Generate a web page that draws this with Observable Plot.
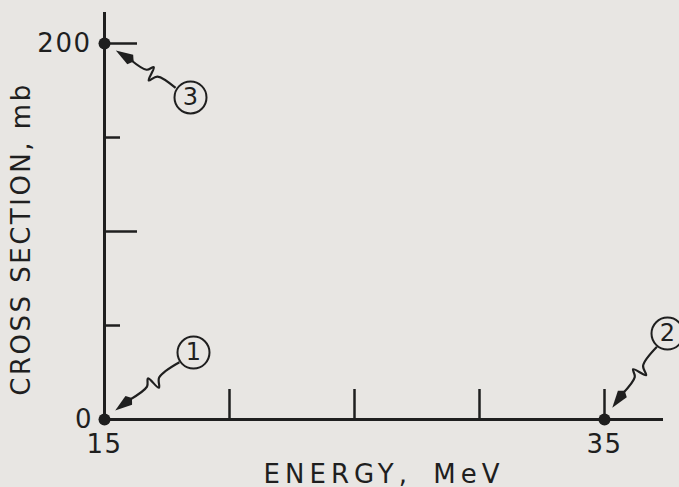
<!DOCTYPE html>
<html><head><meta charset="utf-8">
<script src="https://cdn.jsdelivr.net/npm/d3@7"></script>
<script src="https://cdn.jsdelivr.net/npm/@observablehq/plot@0.6"></script>
<style>
html,body{margin:0;padding:0;background:#e8e6e3;}
</style></head><body><div id="chart"></div>
<script>
// data points (energy in MeV, cross section in mb)
const energy = [15, 35, 15];
const crossSection = [0, 0, 200];
const pointIds = ["1", "2", "3"];
// circled label positions (data units)
const labelEnergy = [18.56, 37.52, 18.44];
const labelCross = [35.6, 45.7, 171.3];
// ticks
const xTicks = [20, 25, 30, 35];
const xTickLabels = [15, 35];
const yMajorTicks = [0, 100, 200];
const yMinorTicks = [50, 150];
const yTickLabels = [0, 200];
const xTitle = "ENERGY, MeV";
const yTitle = "CROSS SECTION, mb";

const ink = "#1f1f1f";
const pts = energy.map((e, i) => ({energy: e, cs: crossSection[i], id: pointIds[i]}));
const labels = pointIds.map((id, i) => ({id, energy: labelEnergy[i], cs: labelCross[i], tx: energy[i], ty: crossSection[i]}));

const chart = Plot.plot({
  width: 679, height: 487,
  marginLeft: 104, marginRight: 16, marginTop: 12, marginBottom: 68,
  x: {domain: [15, 37.36]},
  y: {domain: [0, 216.5]},
  style: {background: "#e8e6e3", fontFamily: "DejaVu Sans", color: ink},
  marks: [
    Plot.axisX(xTicks, {tickSize: -30, tickFormat: () => "", strokeWidth: 2.5, label: null, stroke: ink}),
    Plot.axisX(xTickLabels, {tickSize: 0, tickPadding: 15, fontSize: 26, label: null, fill: ink}),
    Plot.axisY(yMajorTicks, {tickSize: -33, tickFormat: () => "", strokeWidth: 2.5, label: null, stroke: ink}),
    Plot.axisY(yMinorTicks, {tickSize: -16, tickFormat: () => "", strokeWidth: 2.5, label: null, stroke: ink}),
    Plot.axisY(yTickLabels, {tickSize: 0, tickPadding: 13, fontSize: 26, label: null, fill: ink}),
    Plot.ruleX([15], {strokeWidth: 3, stroke: ink}),
    Plot.ruleY([0], {strokeWidth: 3, stroke: ink}),
    Plot.dot(pts, {x: "energy", y: "cs", r: 6, fill: ink}),
    Plot.dot(labels, {x: "energy", y: "cs", r: 16, stroke: ink, strokeWidth: 2, fill: "none"}),
    Plot.text(labels, {x: "energy", y: "cs", text: "id", fontSize: 24, fill: ink}),
    Plot.text([yTitle], {frameAnchor: "left", textAnchor: "middle", rotate: -90, dx: -83, dy: 23, fontSize: 26, fill: ink}),
    Plot.text([xTitle], {frameAnchor: "bottom", textAnchor: "middle", dy: 63, lineAnchor: "bottom", fontSize: 26, fill: ink})
  ]
});
document.getElementById("chart").appendChild(chart);

const svg = d3.select(chart);
svg.selectAll("text").filter(function(){ return this.textContent === xTitle; })
  .attr("letter-spacing", 5).attr("word-spacing", 8);
svg.selectAll("text").filter(function(){ return this.textContent === yTitle; })
  .attr("letter-spacing", 2.5);
svg.selectAll("text").filter(function(){ return /^\d{2,}$/.test(this.textContent); })
  .attr("letter-spacing", 1.5);

// wavy annotation arrows, positioned through Plot's scales
const sx = chart.scale("x"), sy = chart.scale("y");
const g = svg.append("g");
labels.forEach(d => {
  const P = [sx.apply(d.tx), sy.apply(d.ty)];
  const C = [sx.apply(d.energy), sy.apply(d.cs)];
  let ux = C[0] - P[0], uy = C[1] - P[1];
  const len = Math.hypot(ux, uy); ux /= len; uy /= len;
  const nx = -uy, ny = ux;
  const tip = [P[0] + ux * 14, P[1] + uy * 14];
  const tail = [C[0] - ux * 17, C[1] - uy * 17];
  const L = Math.hypot(tail[0] - tip[0], tail[1] - tip[1]);
  const head = 17;
  const base = [tip[0] + ux * head, tip[1] + uy * head];
  const at = (t, o) => [base[0] + ux * t * (L - head) + nx * o, base[1] + uy * t * (L - head) + ny * o];
  const squig = [at(1, 0), at(0.6, 0), at(0.5, 8), at(0.45, -6), at(0.36, 0), at(0, 0)];
  g.append("path").attr("d", d3.line().curve(d3.curveCatmullRom)(squig))
    .attr("fill", "none").attr("stroke", ink).attr("stroke-width", 2.2);
  const hw = 5.5;
  g.append("path")
    .attr("d", `M${tip[0]},${tip[1]}L${base[0] + nx * hw},${base[1] + ny * hw}L${base[0] + ux * 4},${base[1] + uy * 4}L${base[0] - nx * hw},${base[1] - ny * hw}Z`)
    .attr("fill", ink);
});
</script></body></html>
